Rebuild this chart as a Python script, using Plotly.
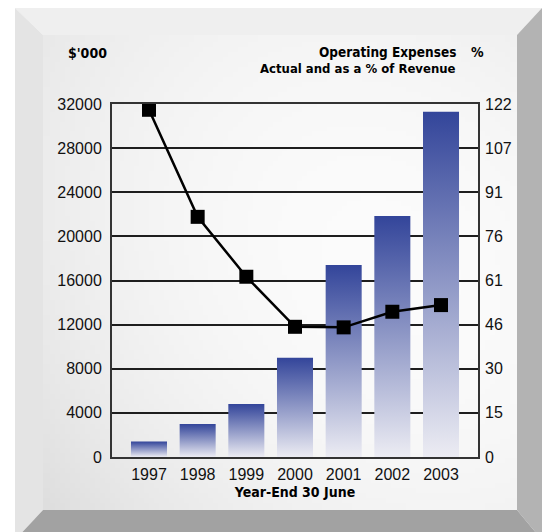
import base64, struct, zlib
import plotly.graph_objects as go

# ---------------- data ----------------
years = ["1997", "1998", "1999", "2000", "2001", "2002", "2003"]
expenses = [1400, 3000, 4800, 9000, 17400, 21850, 31300]          # $'000 (left axis)
pct_revenue = [120, 83, 62.3, 45, 44.8, 50.2, 52.5]                 # % (right axis)
left_ticks = [0, 4000, 8000, 12000, 16000, 20000, 24000, 28000, 32000]
right_tick_text = ["0", "15", "30", "46", "61", "76", "91", "107", "122"]
right_max = 122

# ---------------- layout geometry ----------------
W, H = 543, 532
ML, MR, MT, MB = 112, 65, 104, 75
PW, PH = W - ML - MR, H - MT - MB
FONT = "Liberation Sans Narrow, Arial Narrow, Liberation Sans, Arial, sans-serif"
BFONT = "Liberation Sans Narrow, DejaVu Sans Condensed, sans-serif"


def px(x, y):
    return (x - ML) / PW, (H - MB - y) / PH


def png_uri(w, h, func):
    raw = b""
    for j in range(h):
        row = bytearray([0])
        for i in range(w):
            c = func(i / (w - 1), j / (h - 1))
            row += bytes([c, c, c])
        raw += bytes(row)

    def chunk(t, d):
        return struct.pack(">I", len(d)) + t + d + struct.pack(">I", zlib.crc32(t + d) & 0xffffffff)

    png = b"\x89PNG\r\n\x1a\n" + chunk(b"IHDR", struct.pack(">IIBBBBB", w, h, 8, 2, 0, 0, 0))
    png += chunk(b"IDAT", zlib.compress(raw, 9)) + chunk(b"IEND", b"")
    return "data:image/png;base64," + base64.b64encode(png).decode()


def face(u, v):
    d2 = (u - 0.62) ** 2 + (v - 0.55) ** 2
    c = 254 - 30 * d2 - 14 * (1 - u) * v
    return max(0, min(255, int(c)))


face_img = png_uri(96, 96, face)

fig = go.Figure()

# bars as gradient-filled rectangles (one per bar, from the data)
bw = 0.37
for i, val in enumerate(expenses):
    fig.add_trace(go.Scatter(
        x=[i - bw, i + bw, i + bw, i - bw, i - bw],
        y=[0, 0, val, val, 0],
        mode="lines", fill="toself", line=dict(width=0),
        fillgradient=dict(type="vertical", colorscale=[[0, "#ececf3"], [1, "#33459a"]]),
        hoverinfo="skip", showlegend=False, yaxis="y"))

fig.add_trace(go.Scatter(
    x=list(range(len(years))), y=pct_revenue, yaxis="y2",
    mode="lines+markers", line=dict(color="black", width=2.5),
    marker=dict(symbol="square", size=14, color="black"),
    showlegend=False))

shapes = []
def poly(pts, color):
    d = "M " + " L ".join(f"{px(a, b)[0]:.5f},{px(a, b)[1]:.5f}" for a, b in pts) + " Z"
    shapes.append(dict(type="path", xref="paper", yref="paper", path=d,
                       fillcolor=color, line=dict(width=0), layer="below"))

poly([(15, 8), (542, 8), (517, 35), (43, 35)], "#efefef")
poly([(15, 8), (43, 35), (43, 510), (15, 540)], "#e4e4e4")
poly([(542, 8), (542, 540), (517, 510), (517, 35)], "#b3b3b3")
poly([(15, 540), (43, 510), (517, 510), (542, 540)], "#a2a2a2")

x0, y0 = px(43, 35)
x1, y1 = px(517, 510)
images = [dict(source=face_img, xref="paper", yref="paper", x=x0, y=y0,
               sizex=x1 - x0, sizey=y0 - y1, sizing="stretch", layer="below")]

annotations = []
def ann(text, x, y, xanchor, size=13):
    ax, ay = px(x, y)
    annotations.append(dict(text=text, x=ax, y=ay, xref="paper", yref="paper",
                            xanchor=xanchor, yanchor="bottom", showarrow=False,
                            align=xanchor,
                            font=dict(family=BFONT, size=size, color="black", weight="bold")))

ann("$'000", 66, 63, "left", 14)
ann("Operating Expenses", 458, 62, "right", 13.5)
ann("Actual and as a % of Revenue", 458, 78, "right", 13)
ann("%", 469, 62, "left", 14)

fig.update_layout(
    width=W, height=H, margin=dict(l=ML, r=MR, t=MT, b=MB),
    paper_bgcolor="white", plot_bgcolor="rgba(0,0,0,0)",
    font=dict(family=FONT, size=16, color="#111"),
    shapes=shapes, images=images, annotations=annotations,
    xaxis=dict(range=[-0.76, len(years) - 0.24], tickvals=list(range(len(years))),
               ticktext=years, showgrid=False, zeroline=False,
               showline=True, linecolor="#333", linewidth=2, mirror=True,
               ticks="", ticklabelstandoff=2,
               title=dict(text="<b>Year-End 30 June</b>", standoff=5,
                          font=dict(family=BFONT, size=14, color="black"))),
    yaxis=dict(range=[0, left_ticks[-1]], tickvals=left_ticks,
               ticktext=[str(v) for v in left_ticks], showgrid=True,
               gridcolor="#1e1e1e", gridwidth=1.5, zeroline=False,
               showline=True, linecolor="#333", linewidth=2, mirror=True,
               ticks="", ticklabelstandoff=5),
    yaxis2=dict(range=[0, right_max], overlaying="y", side="right",
                tickvals=[right_max * k / 8 for k in range(9)], ticktext=right_tick_text,
                showgrid=False, zeroline=False, showline=False, ticks="",
                ticklabelstandoff=6),
)

fig.write_html("out.html")
